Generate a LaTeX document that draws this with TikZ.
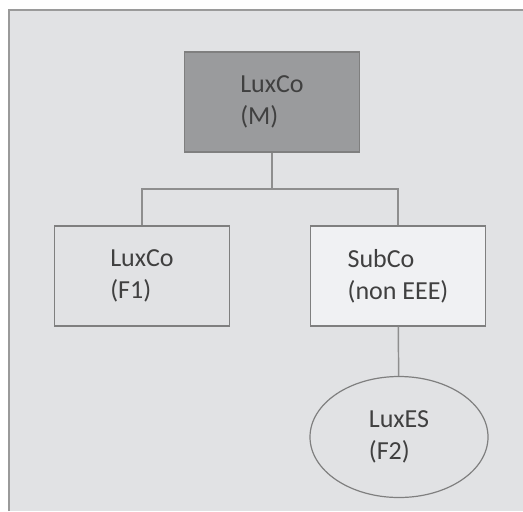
\documentclass[tikz,border=0pt]{standalone}
\usepackage{fontspec}
\setmainfont{Carlito}
\usetikzlibrary{shapes.geometric}
\definecolor{bggray}{HTML}{E1E2E4}
\definecolor{framegray}{HTML}{9A9A9A}
\definecolor{boxline}{HTML}{7F7F7F}
\definecolor{linkgray}{HTML}{8E8E8E}
\definecolor{mgray}{HTML}{9A9B9D}
\definecolor{subfill}{HTML}{F0F1F3}
\definecolor{txtgray}{HTML}{404040}
\begin{document}
\begin{tikzpicture}[x=0.75pt,y=-0.75pt,
        entity/.style={draw=boxline, line width=0.9pt, minimum width=131.25pt,
            minimum height=75pt, inner sep=0pt, align=left, text=txtgray,
            font=\fontsize{19.5}{24}\selectfont},
        link/.style={draw=linkgray, line width=1.1pt}]
    \useasboundingbox (0,0) rectangle (523,511);
    \fill[bggray] (9,10) rectangle (523,511);
    \draw[framegray, line width=1.4pt] (9,511) -- (9,10) -- (523,10);
    % group
    \node[entity, fill=mgray] (m) at (272,102) {LuxCo\\(M)};
    \node[entity] (f1) at (142,276) {LuxCo\\(F1)};
    \node[entity, fill=subfill] (sub) at (398,276) {SubCo\\(non EEE)};
    \node[entity, ellipse, minimum width=133.5pt, minimum height=90.75pt] (f2) at (399,437) {LuxES\\(F2)};
    \coordinate (split) at (272,189);
    \draw[link] (m) -- (split);
    \draw[link] (f1.north) |- (split) -| (sub.north);
    \draw[link] (sub) -- (f2);
\end{tikzpicture}
\end{document}
